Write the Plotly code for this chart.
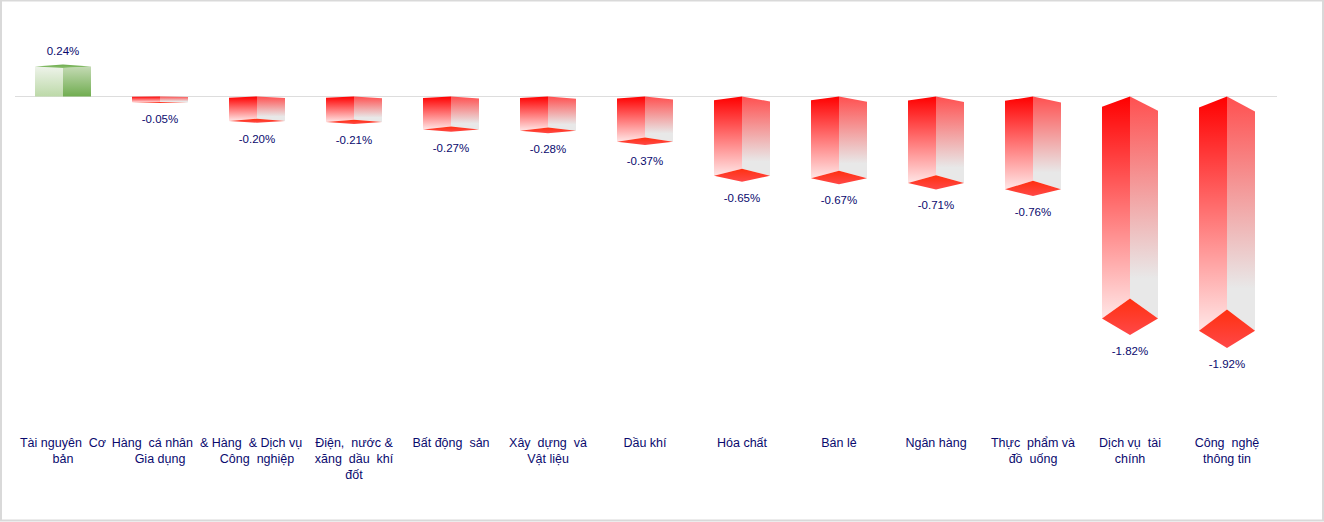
import plotly.graph_objects as go

categories = ["Tài nguyên  Cơ<br>bản", "Hàng  cá nhân  &<br>Gia dụng", "Hàng  & Dịch vụ<br>Công  nghiệp",
              "Điện,  nước &<br>xăng  dầu  khí<br>đốt", "Bất động  sản", "Xây  dựng  và<br>Vật liệu",
              "Dầu khí", "Hóa chất", "Bán lẻ", "Ngân hàng", "Thực  phẩm và<br>đồ  uống",
              "Dịch vụ  tài<br>chính", "Công  nghệ<br>thông tin"]
values = [0.24, -0.05, -0.20, -0.21, -0.27, -0.28, -0.37, -0.65, -0.67, -0.71, -0.76, -1.82, -1.92]

HALF = 0.2887
NAVY = "#0a0a6e"
PX = 131.0  # pixels per percentage point

RED_LEFT = [[0, "#ff0000"], [1, "#ffe6e6"]]
RED_RIGHT = [[0, "#ff5050"], [0.82, "#e8e8e8"], [1, "#e8e8e8"]]
RED_BASE = [[0, "#ff3010"], [1, "#ff4848"]]
GREEN_LEFT = [[0, "#eef3ea"], [1, "#bcd9a8"]]
GREEN_RIGHT = [[0, "#c4dab4"], [1, "#70ad50"]]
GREEN_TOP = [[0, "#6cab4c"], [1, "#8cc070"]]


def face(xs, ys, scale):
    low, high = min(ys), max(ys)
    return go.Scatter(
        x=xs + xs[:1], y=ys + ys[:1], mode="lines", fill="toself",
        line=dict(width=0, color="rgba(0,0,0,0)"),
        fillgradient=dict(type="vertical", start=high, stop=low, colorscale=scale),
        hoverinfo="skip", showlegend=False)


traces = []
for i, v in enumerate(values):
    u = abs(v)
    if v < 0:
        back, side, front = -u * 111 / PX, -u * 122 / PX, -u
        top_l, top_r = -u * 5.7 / PX, -u * 7.8 / PX
        traces.append(face([i - HALF, i, i, i - HALF], [top_l, 0, back, side], RED_LEFT))
        traces.append(face([i, i + HALF, i + HALF, i], [0, top_r, side, back], RED_RIGHT))
        traces.append(face([i, i + HALF, i, i - HALF], [back, side, front, side], RED_BASE))
    else:
        back, side, front = u * 133 / PX, u * 125 / PX, u * 119 / PX
        traces.append(face([i - HALF, i, i, i - HALF], [side, front, 0, 0], GREEN_LEFT))
        traces.append(face([i, i + HALF, i + HALF, i], [front, side, 0, 0], GREEN_RIGHT))
        traces.append(face([i, i + HALF, i, i - HALF], [back, side, front, side], GREEN_TOP))

label_y = [v + 0.1 if v > 0 else v - 0.13 for v in values]
traces.append(go.Scatter(
    x=list(range(len(values))), y=label_y, mode="text",
    text=[f"{v:.2f}%" for v in values], textposition="middle center",
    textfont=dict(family="Liberation Sans", size=11.5, color=NAVY),
    hoverinfo="skip", showlegend=False))

fig = go.Figure(traces)
W, H = 1324, 522
L, R, T, B = 15, 47, 0, 92
fig.update_layout(
    width=W, height=H, autosize=False,
    margin=dict(l=L, r=R, t=T, b=B, pad=0),
    paper_bgcolor="white", plot_bgcolor="white",
    font=dict(family="Liberation Sans", color=NAVY),
    xaxis=dict(range=[(15 - 63) / 97, (1277 - 63) / 97], tickvals=list(range(len(categories))),
               ticktext=categories, showgrid=False, zeroline=False, showline=False, ticks="",
               tickangle=0, tickfont=dict(size=12.5, color=NAVY), ticklabelstandoff=3),
    yaxis=dict(range=[-(430 - 96.5) / PX, 96.5 / PX], showgrid=False, showticklabels=False,
               zeroline=True, zerolinecolor="#dddddd", zerolinewidth=1, ticks="", showline=False),
    shapes=[dict(type="rect", xref="paper", yref="paper",
                 x0=(1 - L) / (W - L - R), x1=(W - 1 - L) / (W - L - R),
                 y0=-(B - 1.5) / (H - T - B), y1=(H - T - B - 0.5) / (H - T - B),
                 line=dict(color="#d9d9d9", width=2), layer="below")],
)
fig.write_html("out.html", config={"displayModeBar": False},
               post_script="document.body.style.margin='0';document.body.style.overflow='hidden';")
